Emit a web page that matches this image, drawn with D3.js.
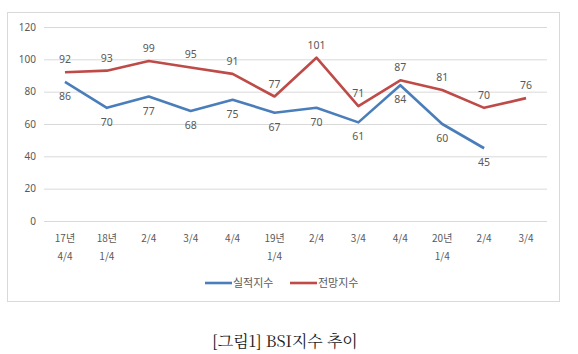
<!DOCTYPE html>
<html>
<head>
<meta charset="utf-8">
<script src="https://cdn.jsdelivr.net/npm/d3@7"></script>
<style>
  body { margin: 0; background: #fff; }
  text { font-family: "Noto Sans CJK KR", "Noto Sans", sans-serif; }
</style>
</head>
<body>
<div class="chart"></div>
<script>
// categories (two-line labels)
var categories = ["17년\n4/4", "18년\n1/4", "2/4", "3/4", "4/4", "19년\n1/4", "2/4", "3/4", "4/4", "20년\n1/4", "2/4", "3/4"];
var actual = [86, 70, 77, 68, 75, 67, 70, 61, 84, 60, 45];
var outlook = [92, 93, 99, 95, 91, 77, 101, 71, 87, 81, 70, 76];
var yTicks = [0, 20, 40, 60, 80, 100, 120];
var seriesNames = ["실적지수", "전망지수"];

var W = 578, H = 354;
var svg = d3.select("div.chart").append("svg").attr("width", W).attr("height", H);

// chart frame
svg.append("rect").attr("x", 7.5).attr("y", 12.5).attr("width", 552).attr("height", 289)
  .style("fill", "#fff").style("stroke", "#d9d9d9");

var x = d3.scalePoint().domain(d3.range(categories.length)).range([44, 547]).padding(0.5);
var y = d3.scaleLinear().domain([0, 120]).range([221, 27]);

// gridlines
svg.selectAll("line.grid").data(yTicks).enter().append("line")
  .attr("x1", 44).attr("x2", 547)
  .attr("y1", function (d) { return y(d) + 0.5; }).attr("y2", function (d) { return y(d) + 0.5; })
  .style("stroke", "#d9d9d9");

var yAxis = svg.append("g").attr("transform", "translate(36,0)")
  .call(d3.axisLeft(y).tickValues(yTicks).tickSize(0).tickPadding(0));
yAxis.select(".domain").remove();
yAxis.selectAll("text").style("font-size", "10px").style("fill", "#595959")
  .style("font-family", "\"Noto Sans\", sans-serif");

// x labels
var xl = svg.selectAll("text.xl").data(categories).enter().append("text")
  .attr("x", function (d, i) { return x(i); })
  .attr("y", 242)
  .style("text-anchor", "middle").style("font-size", "10px").style("fill", "#595959");
xl.each(function (d) {
  var parts = d.split("\n"), t = d3.select(this);
  parts.forEach(function (p, k) {
    t.append("tspan").attr("x", t.attr("x")).attr("dy", k ? 18 : 0).text(p);
  });
});

var line = d3.line().x(function (d, i) { return x(i); }).y(function (d) { return y(d); });
var colors = ["#4a7ebb", "#be4b48"];

svg.append("path").datum(actual).attr("d", line)
  .style("fill", "none").style("stroke", colors[0]).style("stroke-width", 2.6).style("stroke-linejoin", "round");
svg.append("path").datum(outlook).attr("d", line)
  .style("fill", "none").style("stroke", colors[1]).style("stroke-width", 2.6).style("stroke-linejoin", "round");

// data labels
svg.selectAll("text.lo").data(outlook).enter().append("text")
  .attr("x", function (d, i) { return x(i); })
  .attr("y", function (d) { return y(d) - 9; })
  .style("text-anchor", "middle").style("font-size", "10.5px").style("fill", "#595959")
  .style("font-family", "\"Noto Sans\", sans-serif")
  .text(function (d) { return d; });
svg.selectAll("text.la").data(actual).enter().append("text")
  .attr("x", function (d, i) { return x(i); })
  .attr("y", function (d) { return y(d) + 18; })
  .style("text-anchor", "middle").style("font-size", "10.5px").style("fill", "#595959")
  .style("font-family", "\"Noto Sans\", sans-serif")
  .text(function (d) { return d; });

// legend
var lg = svg.selectAll("g.lg").data(seriesNames).enter().append("g")
  .attr("transform", function (d, i) { return "translate(" + (205 + i * 85) + ",283)"; });
lg.append("line").attr("x1", 0).attr("x2", 27).attr("y1", 0).attr("y2", 0)
  .style("stroke", function (d, i) { return colors[i]; }).style("stroke-width", 2.6);
lg.append("text").attr("x", 28).attr("y", 4).style("font-size", "11px").style("fill", "#595959")
  .text(function (d) { return d; });

// caption
svg.append("text").attr("x", 285).attr("y", 347).style("text-anchor", "middle")
  .style("font-size", "16px").style("fill", "#222")
  .style("font-family", "\"Noto Serif CJK KR\", \"DejaVu Serif\", \"Liberation Serif\", serif")
  .text("[그림1] BSI지수 추이");
</script>
</body>
</html>
